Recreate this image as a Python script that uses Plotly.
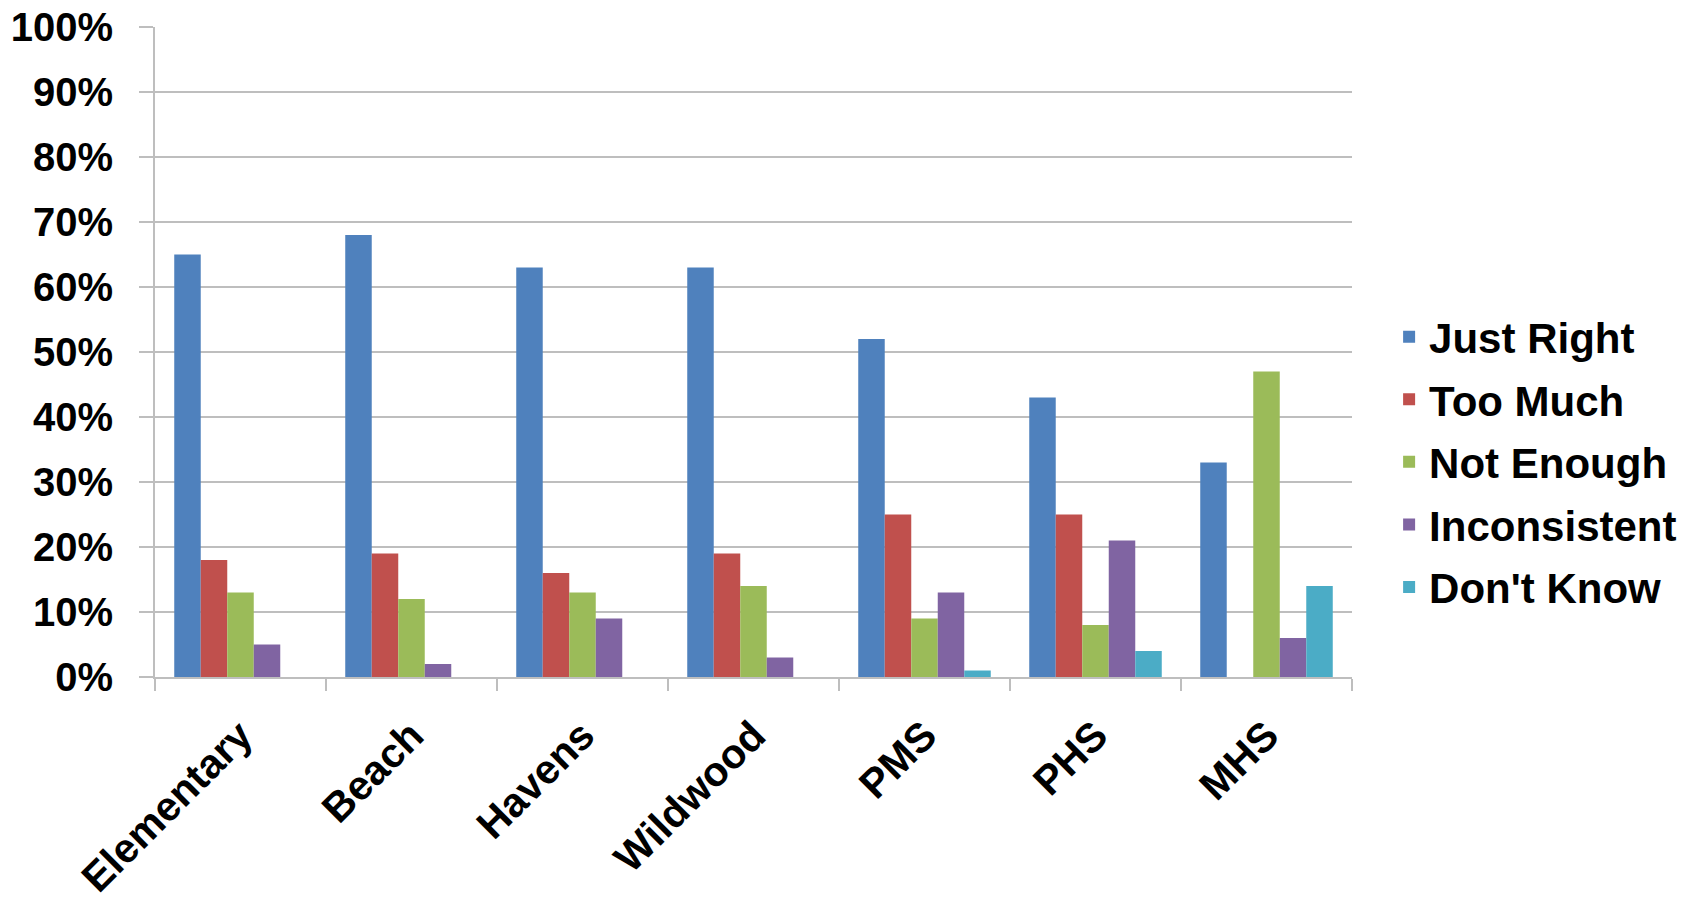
import plotly.graph_objects as go

categories = ["Elementary", "Beach", "Havens", "Wildwood", "PMS", "PHS", "MHS"]
just_right = [65, 68, 63, 63, 52, 43, 33]
too_much = [18, 19, 16, 19, 25, 25, 0]
not_enough = [13, 12, 13, 14, 9, 8, 47]
inconsistent = [5, 2, 9, 3, 13, 21, 6]
dont_know = [0, 0, 0, 0, 1, 4, 14]

series = [
    ("Just Right", just_right, "#4F81BD"),
    ("Too Much", too_much, "#C0504D"),
    ("Not Enough", not_enough, "#9BBB59"),
    ("Inconsistent", inconsistent, "#8064A2"),
    ("Don't Know", dont_know, "#4BACC6"),
]

FONT = "Liberation Sans, Arial, sans-serif"

fig = go.Figure()
for i, (name, vals, color) in enumerate(series):
    fig.add_trace(go.Bar(
        x=categories, y=[v / 100 for v in vals], name=name,
        marker=dict(color=color, line=dict(width=0)),
        legendgroup=f"g{i}",
    ))

fig.update_layout(
    width=1694, height=901,
    paper_bgcolor="white", plot_bgcolor="white",
    margin=dict(l=155, r=342, t=27, b=224),
    barmode="group", bargap=0.225, bargroupgap=0,
    font=dict(family=FONT, color="black", size=40, weight="bold"),
    legend=dict(
        x=1.031, xanchor="left", y=0.331, yanchor="middle",
        font=dict(family=FONT, size=42, color="black", weight="bold"),
        tracegroupgap=5, bgcolor="rgba(0,0,0,0)",
    ),
    showlegend=True,
)

fig.update_yaxes(
    range=[0, 1], dtick=0.1, tickformat=".0%",
    showgrid=True, gridcolor="#BEBEBE", gridwidth=2,
    showline=True, linecolor="#BEBEBE", linewidth=2,
    ticks="outside", ticklen=14, tickcolor="#BEBEBE", tickwidth=2,
    ticklabelstandoff=18, automargin=False, ticklabeloverflow="allow",
    tickfont=dict(family=FONT, size=40, color="black", weight="bold"),
    zeroline=False,
)
fig.update_xaxes(
    showline=True, linecolor="#BEBEBE", linewidth=2,
    ticks="outside", ticklen=12, tickcolor="#BEBEBE", tickwidth=2,
    tickson="boundaries", tickangle=-45,
    ticklabelstandoff=16, automargin=False, ticklabeloverflow="allow",
    tickfont=dict(family=FONT, size=41, color="black", weight="bold"),
    showgrid=False,
)

fig.write_html(
    "out.html",
    config={"displayModeBar": False},
    post_script="document.body.style.margin='0';document.body.style.overflow='hidden';",
)
